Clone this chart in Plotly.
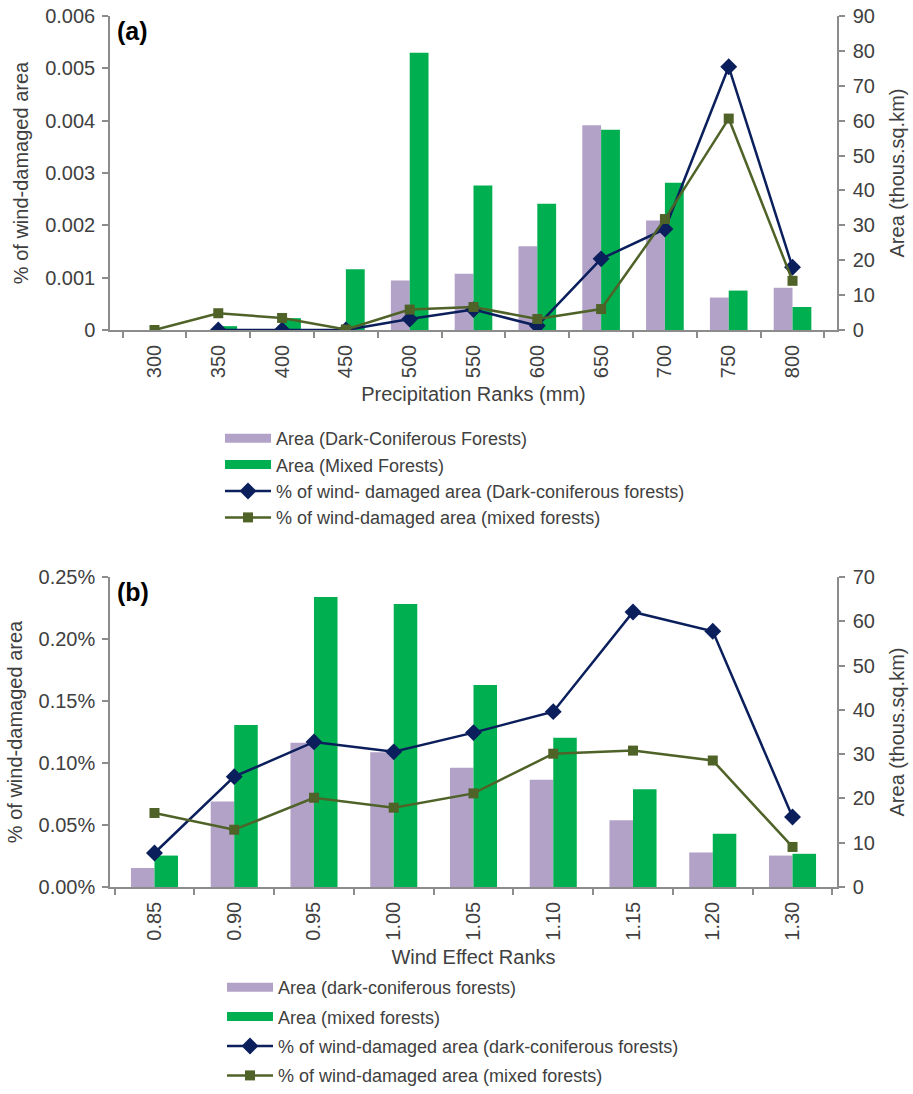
import plotly.graph_objects as go

# ---- Panel (a): precipitation ranks ----
precip_ranks = ["300", "350", "400", "450", "500", "550", "600", "650", "700", "750", "800"]
area_dark_a = [0, 0, 0, 0, 14.2, 16.1, 24.0, 58.7, 31.4, 9.3, 12.1]
area_mixed_a = [0, 1.1, 3.4, 17.4, 79.5, 41.4, 36.2, 57.4, 42.2, 11.3, 6.6]
pct_dark_a = [None, 0.0, 0.0, 0.0, 0.00021, 0.00039, 0.00008, 0.00136, 0.00193, 0.00503, 0.0012]
pct_mixed_a = [0.0, 0.00032, 0.00023, 0.00001, 0.00039, 0.00044, 0.00021, 0.0004, 0.00212, 0.00404, 0.00094]

# ---- Panel (b): wind effect ranks ----
wind_ranks = ["0.85", "0.90", "0.95", "1.00", "1.05", "1.10", "1.15", "1.20", "1.30"]
area_dark_b = [4.3, 19.3, 32.6, 30.4, 26.9, 24.2, 15.1, 7.8, 7.1]
area_mixed_b = [7.1, 36.6, 65.5, 63.9, 45.6, 33.7, 22.1, 12.0, 7.5]
pct_dark_b = [0.000274, 0.00089, 0.00117, 0.00109, 0.001245, 0.001414, 0.002218, 0.002062, 0.000565]
pct_mixed_b = [0.000597, 0.000462, 0.00072, 0.00064, 0.000755, 0.001075, 0.0011, 0.00102, 0.000323]

PURPLE = "#B3A2C7"
GREEN = "#00B050"
NAVY = "#0B1F5C"
OLIVE = "#4F6228"
AXIS = "#8C8C8C"
TEXT = "#404040"
FONT = "Liberation Sans"

W, H = 913, 1094
ML, MR = 110, 76
PW = W - ML - MR


def ydom(top_px, bottom_px):
    return [(H - bottom_px) / H, (H - top_px) / H]


fig = go.Figure()


def add_panel(xax, yarea, ypct, cats, a_dark, a_mixed, p_dark, p_mixed, names, legend):
    # bars on the area axis, lines on the overlaying percentage axis (drawn on top)
    fig.add_trace(go.Bar(x=cats, y=a_dark, marker=dict(color=PURPLE, line=dict(width=0)),
                         xaxis=xax, yaxis=yarea, showlegend=False, name=names[0]))
    fig.add_trace(go.Bar(x=cats, y=a_mixed, marker=dict(color=GREEN, line=dict(width=0)),
                         xaxis=xax, yaxis=yarea, showlegend=False, name=names[1]))
    fig.add_trace(go.Scatter(x=cats, y=p_dark, mode="lines+markers", name=names[2],
                             line=dict(color=NAVY, width=2.5),
                             marker=dict(symbol="diamond", size=13, color=NAVY),
                             xaxis=xax, yaxis=ypct, legend=legend, legendgroup=legend + "c",
                             legendrank=3))
    fig.add_trace(go.Scatter(x=cats, y=p_mixed, mode="lines+markers", name=names[3],
                             line=dict(color=OLIVE, width=2.5),
                             marker=dict(symbol="square", size=10, color=OLIVE),
                             xaxis=xax, yaxis=ypct, legend=legend, legendgroup=legend + "d",
                             legendrank=4))
    # legend swatches for the bar series
    for i, (nm, col) in enumerate([(names[0], PURPLE), (names[1], GREEN)]):
        fig.add_trace(go.Scatter(x=[None], y=[None], mode="lines", name=nm,
                                 line=dict(color=col, width=9),
                                 xaxis=xax, yaxis=yarea, legend=legend,
                                 legendgroup=legend + "ab"[i], legendrank=i + 1))


add_panel("x", "y", "y2", precip_ranks, area_dark_a, area_mixed_a, pct_dark_a, pct_mixed_a,
          ["Area (Dark-Coniferous Forests)", "Area (Mixed Forests)",
           "% of wind- damaged area (Dark-coniferous forests)",
           "% of wind-damaged area (mixed forests)"], "legend")
add_panel("x2", "y3", "y4", wind_ranks, area_dark_b, area_mixed_b, pct_dark_b, pct_mixed_b,
          ["Area (dark-coniferous forests)", "Area (mixed forests)",
           "% of wind-damaged area (dark-coniferous forests)",
           "% of wind-damaged area (mixed forests)"], "legend2")

tickfont = dict(family=FONT, size=20, color=TEXT)
titlefont = dict(family=FONT, size=20, color=TEXT)

common_axis = dict(showline=True, linecolor=AXIS, linewidth=1.5, ticks="outside",
                   ticklen=6, tickcolor=AXIS, tickwidth=1.5, showgrid=False,
                   zeroline=False, tickfont=tickfont, automargin=False)

dom_a = ydom(16, 330)
dom_b = ydom(577, 887)

legend_font = dict(family=FONT, size=18, color=TEXT)

fig.update_layout(
    width=W, height=H,
    margin=dict(l=ML, r=MR, t=0, b=0),
    paper_bgcolor="white", plot_bgcolor="white",
    barmode="group", bargap=0.41, bargroupgap=0,
    font=dict(family=FONT, color=TEXT),
    xaxis=dict(common_axis, domain=[0, 1], anchor="y", type="category",
               tickson="boundaries", tickangle=-90, ticklabelstandoff=5,
               title=dict(text="Precipitation Ranks (mm)", font=titlefont, standoff=10)),
    yaxis=dict(common_axis, domain=dom_a, anchor="x", side="right",
               range=[0, 90], dtick=10, ticklabelstandoff=4,
               title=dict(text="Area (thous.sq.km)", font=titlefont, standoff=16)),
    yaxis2=dict(common_axis, overlaying="y", anchor="x", side="left",
                range=[0, 0.006], dtick=0.001, ticklabelstandoff=3,
                title=dict(text="% of wind-damaged area", font=titlefont, standoff=11)),
    xaxis2=dict(common_axis, domain=[0, 1], anchor="y3", type="category",
                tickson="boundaries", tickangle=-90, ticklabelstandoff=5,
                title=dict(text="Wind Effect Ranks", font=titlefont, standoff=10)),
    yaxis3=dict(common_axis, domain=dom_b, anchor="x2", side="right",
                range=[0, 70], dtick=10, ticklabelstandoff=4,
                title=dict(text="Area (thous.sq.km)", font=titlefont, standoff=16)),
    yaxis4=dict(common_axis, overlaying="y3", anchor="x2", side="left",
                range=[0, 0.0025], dtick=0.0005, tickformat=".2%", ticklabelstandoff=3,
                title=dict(text="% of wind-damaged area", font=titlefont, standoff=11)),
    legend=dict(x=(220 - ML) / PW, y=(H - 420) / H, xanchor="left", yanchor="top",
                traceorder="grouped", tracegroupgap=0, itemwidth=46,
                font=legend_font, bgcolor="rgba(0,0,0,0)"),
    legend2=dict(x=(222 - ML) / PW, y=0, xanchor="left", yanchor="bottom",
                 traceorder="grouped", tracegroupgap=3, itemwidth=46,
                 font=legend_font, bgcolor="rgba(0,0,0,0)"),
    annotations=[
        dict(text="<b>(a)</b>", xref="paper", yref="paper", x=(115 - ML) / PW,
             y=(H - 31) / H, xanchor="left", yanchor="middle", showarrow=False,
             font=dict(family=FONT, size=25, color="black")),
        dict(text="<b>(b)</b>", xref="paper", yref="paper", x=(115 - ML) / PW,
             y=(H - 592) / H, xanchor="left", yanchor="middle", showarrow=False,
             font=dict(family=FONT, size=25, color="black")),
    ],
)

fig.write_html("out.html")
